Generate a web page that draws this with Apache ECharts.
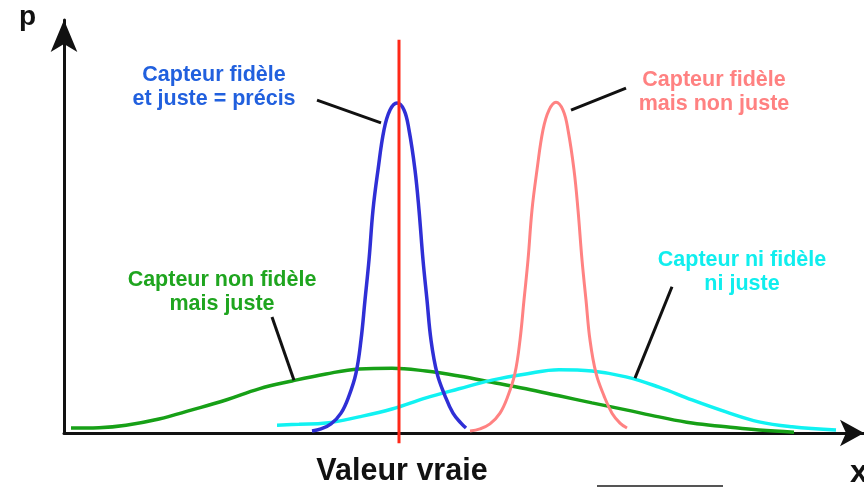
<!DOCTYPE html>
<html lang="fr">
<head>
    <meta charset="UTF-8">
    <title>Fidélité et justesse d'un capteur</title>
    <script src="https://cdn.jsdelivr.net/npm/echarts@6/dist/echarts.min.js"></script>
</head>
<body style="margin:0">
<div id="main" style="width: 864px;height:488px;"></div>
<script>
    // points : [x, p]
    let blueCurve = [[24.8,0.5],[25.7,1.0],[26.7,2.2],[27.7,4.8],[28.5,9.0],[29.2,14.5],[29.7,22.5],[30.1,32.2],
        [30.5,41.9],[30.9,54.0],[31.4,63.7],[32.0,73.4],[32.6,78.2],[33.3,79.9],[34.0,78.2],[34.5,73.4],[35.1,63.7],
        [35.5,54.0],[35.9,41.9],[36.3,32.2],[36.7,22.5],[37.3,14.5],[38.1,9.0],[38.9,4.8],[39.7,2.4],[40.2,1.2]]
    let pinkCurve = [[40.6,0.5],[41.6,1.0],[42.6,2.2],[43.6,4.8],[44.4,9.0],[45.1,14.5],[45.6,22.5],[46.0,32.2],
        [46.4,41.9],[46.8,54.0],[47.3,63.7],[47.9,73.4],[48.5,78.2],[49.2,80.1],[49.9,78.2],[50.4,73.4],[51.0,63.7],
        [51.4,54.0],[51.8,41.9],[52.2,32.2],[52.6,22.5],[53.2,14.5],[54.0,9.0],[54.8,4.8],[55.6,2.4],[56.3,1.2]]
    let greenCurve = [[0.7,1.2],[3.5,1.3],[6.2,1.9],[9.5,3.4],[12.8,5.6],[16.2,8.0],[19.5,10.7],[22.8,12.6],
        [26.2,14.3],[29.5,15.5],[32.8,15.7],[36.2,15.0],[39.5,13.8],[42.8,12.3],[46.2,10.7],[49.5,9.0],[52.8,7.3],
        [56.2,5.6],[59.5,3.9],[62.8,2.4],[66.2,1.5],[69.5,0.7],[73.0,0.2]]
    let cyanCurve = [[21.3,1.9],[23.5,2.1],[26.2,2.4],[29.5,3.9],[32.8,5.8],[36.2,8.5],[39.5,10.7],[42.8,12.8],
        [46.2,14.3],[49.5,15.3],[52.8,15.0],[56.2,13.6],[59.5,11.1],[62.8,8.0],[66.2,5.1],[69.5,2.7],[72.8,1.5],[77.2,0.7]]
    let trueValue = [[33.5,-2.5],[33.5,95.2]]

    // traits de rappel des étiquettes
    let pointers = [
        [[25.3,80.6],[31.7,75.1]],
        [[50.7,78.2],[56.2,83.5]],
        [[20.8,28.1],[23.0,12.8]],
        [[60.8,35.4],[57.1,13.3]]
    ]

    let labels = [
        {lines: ['Capteur fidèle', 'et juste = précis'], color: '#2160de', x: 214, y: 75},
        {lines: ['Capteur fidèle', 'mais non juste'], color: '#ff8181', x: 714, y: 80},
        {lines: ['Capteur non fidèle', 'mais juste'], color: '#1fa51f', x: 222, y: 280},
        {lines: ['Capteur ni fidèle', 'ni juste'], color: '#10eeee', x: 742, y: 260}
    ]

    var myChart = echarts.init(document.getElementById('main'));

    let font = '"Liberation Sans", Arial, sans-serif'
    let graphic = []
    labels.forEach(lb => {
        lb.lines.forEach((t, i) => {
            graphic.push({
                type: 'text', x: lb.x, y: lb.y + i * 24,
                style: {text: t, fill: lb.color, font: 'bold 21.5px ' + font, align: 'center', verticalAlign: 'middle'}
            })
        })
    })
    graphic.push({type: 'text', x: 402, y: 472, style: {text: 'Valeur vraie', fill: '#111', font: 'bold 30.5px ' + font, align: 'center', verticalAlign: 'middle'}})
    graphic.push({type: 'text', x: 19, y: 17, style: {text: 'p', fill: '#111', font: 'bold 28px ' + font, align: 'left', verticalAlign: 'middle'}})
    graphic.push({type: 'text', x: 850, y: 473, style: {text: 'x', fill: '#111', font: 'bold 32px ' + font, align: 'left', verticalAlign: 'middle'}})
    graphic.push({type: 'line', shape: {x1: 597, y1: 486, x2: 723, y2: 486}, style: {stroke: '#555', lineWidth: 2}})

    function curve(data, color, width) {
        return {type: 'line', data: data, smooth: 0.4, symbol: 'none', clip: false,
            lineStyle: {color: color, width: width}}
    }

    let series = [
        curve(greenCurve, '#17a017', 3.5),
        curve(cyanCurve, '#11f2f2', 3.5),
        curve(pinkCurve, '#ff8282', 3),
        curve(blueCurve, '#2f2fd6', 3.5),
        {type: 'line', data: trueValue, symbol: 'none', clip: false, lineStyle: {color: '#ff2818', width: 3}}
    ]
    pointers.forEach(p => {
        series.push({type: 'line', data: p, symbol: 'none', clip: false, lineStyle: {color: '#111', width: 3}})
    })

    option = {
        animation: false,
        backgroundColor: '#fff',
        grid: {left: 64, right: 0, top: 20, bottom: 55},
        xAxis: {
            type: 'value', min: 0, max: 80,
            axisLine: {lineStyle: {color: '#111', width: 3}, symbol: ['none', 'arrow'], symbolSize: [20, 24]},
            axisTick: {show: false}, axisLabel: {show: false}, splitLine: {show: false}
        },
        yAxis: {
            type: 'value', min: 0, max: 100,
            axisLine: {show: true, lineStyle: {color: '#111', width: 3}, symbol: ['none', 'arrow'], symbolSize: [20, 32]},
            axisTick: {show: false}, axisLabel: {show: false}, splitLine: {show: false}
        },
        graphic: graphic,
        series
    };

    myChart.setOption(option);
</script>
</body>
</html>
